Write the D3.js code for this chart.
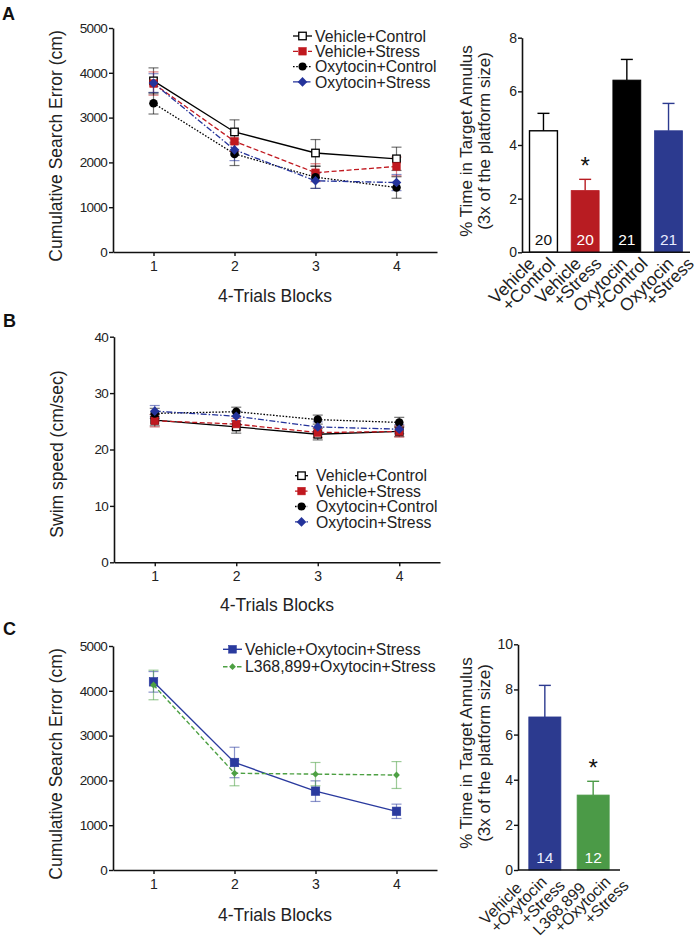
<!DOCTYPE html>
<html>
<head>
<meta charset="utf-8">
<script src="https://cdn.jsdelivr.net/npm/d3@7"></script>
<style>
  html, body { margin: 0; padding: 0; background: #fff; }
  svg { display: block; font-family: "Liberation Sans", Arial, Helvetica, sans-serif; }
</style>
</head>
<body>
<svg id="chart" width="697" height="940"></svg>
<script>
// ---------------- DATA ----------------
const blocks = [1, 2, 3, 4];
const blockTicks = ["1", "2", "3", "4"];

// Panel A – cumulative search error (cm)
const seriesNamesA = ["Vehicle+Control", "Vehicle+Stress", "Oxytocin+Control", "Oxytocin+Stress"];
const vehControlA = [3820, 2680, 2210, 2080];
const vehControlAErr = [290, 270, 300, 260];
const vehStressA = [3760, 2470, 1770, 1910];
const vehStressAErr = [260, 220, 200, 210];
const oxyControlA = [3320, 2190, 1670, 1440];
const oxyControlAErr = [240, 260, 250, 240];
const oxyStressA = [3770, 2280, 1590, 1550];
const oxyStressAErr = [210, 240, 170, 180];
const yTicksA = [0, 1000, 2000, 3000, 4000, 5000];

// Panel A – bar chart (% time in target annulus)
const barCatsA = [["Vehicle", "+Control"], ["Vehicle", "+Stress"], ["Oxytocin", "+Control"], ["Oxytocin", "+Stress"]];
const barValsA = [4.53, 2.30, 6.42, 4.53];
const barErrA = [0.65, 0.42, 0.77, 1.02];
const barNA = ["20", "20", "21", "21"];
const barSigA = ["", "*", "", ""];
const yTicksBarA = [0, 2, 4, 6, 8];

// Panel B – swim speed (cm/sec)
const vehControlB = [25.2, 24.0, 22.7, 23.2];
const vehControlBErr = [1.0, 1.1, 1.0, 0.9];
const vehStressB = [25.1, 24.5, 23.0, 23.2];
const vehStressBErr = [1.1, 1.0, 0.9, 1.0];
const oxyControlB = [26.4, 26.7, 25.3, 24.8];
const oxyControlBErr = [0.9, 0.8, 0.8, 0.9];
const oxyStressB = [26.8, 25.9, 24.0, 23.6];
const oxyStressBErr = [1.0, 0.9, 0.9, 0.8];
const yTicksB = [0, 10, 20, 30, 40];

// Panel C – cumulative search error (cm)
const seriesNamesC = ["Vehicle+Oxytocin+Stress", "L368,899+Oxytocin+Stress"];
const vehOxyStressC = [4200, 2400, 1760, 1310];
const vehOxyStressCErr = [230, 340, 230, 160];
const lOxyStressC = [4130, 2160, 2140, 2120];
const lOxyStressCErr = [330, 280, 260, 300];
const yTicksC = [0, 1000, 2000, 3000, 4000, 5000];

// Panel C – bar chart
const barCatsC = [["Vehicle", "+Oxytocin", "+Stress"], ["L368,899", "+Oxytocin", "+Stress"]];
const barValsC = [6.78, 3.32];
const barErrC = [1.40, 0.61];
const barNC = ["14", "12"];
const barSigC = ["", "*"];
const yTicksBarC = [0, 2, 4, 6, 8, 10];

// ---------------- STYLES ----------------
const RED = "#c0181f", BLUE = "#24339b", BLACK = "#000", GREEN = "#4da043";
const BAR_RED = "#b81c22", BAR_BLUE = "#2c3a8f", BAR_GREEN = "#4b9a47";
const styles4 = [
  { color: BLACK, dash: null, marker: "squareOpen", width: 1.3 },
  { color: RED, dash: "5,2.5", marker: "square", width: 1.3 },
  { color: BLACK, dash: "1.6,1.6", marker: "circle", width: 1.3 },
  { color: BLUE, dash: "6,2,1.5,2", marker: "diamond", width: 1.3 }
];
const stylesC = [
  { color: "#2a3a9e", dash: null, marker: "square", width: 1.4, size: 8.5 },
  { color: GREEN, dash: "4.5,2.5", marker: "diamondSmall", width: 1.4 }
];

const svg = d3.select("#chart");
const FONT = "'Liberation Sans', Arial, Helvetica, sans-serif";

function drawMarker(g, type, x, y, color, size) {
  if (type === "squareOpen") {
    const s = size || 7.5;
    g.append("rect").attr("x", x - s / 2).attr("y", y - s / 2).attr("width", s).attr("height", s)
      .attr("fill", "#fff").attr("stroke", color).attr("stroke-width", 1.3);
  } else if (type === "square") {
    const s = size || 7.5;
    g.append("rect").attr("x", x - s / 2).attr("y", y - s / 2).attr("width", s).attr("height", s)
      .attr("fill", color).attr("stroke", color).attr("stroke-width", 0.6);
  } else if (type === "circle") {
    g.append("circle").attr("cx", x).attr("cy", y).attr("r", (size || 8.6) / 2).attr("fill", color);
  } else if (type === "diamond" || type === "diamondSmall") {
    const r = type === "diamond" ? (size || 4.8) : 3.4;
    g.append("path").attr("d", `M${x},${y - r}L${x + r},${y}L${x},${y + r}L${x - r},${y}Z`).attr("fill", color);
  }
}

function styleAxis(ax) {
  ax.selectAll("path.domain").attr("stroke", "#111").attr("stroke-width", 1.6);
  ax.selectAll(".tick line").attr("stroke", "#111").attr("stroke-width", 1.4);
  ax.selectAll("text").attr("fill", "#222").attr("font-family", FONT);
}

function lineChart(cfg) {
  const g = svg.append("g");
  const x = d3.scaleLinear().domain([0.5, 4.5]).range([cfg.left, cfg.right]);
  const y = d3.scaleLinear().domain([0, cfg.ymax]).range([cfg.bottom, cfg.top]);

  const yAx = g.append("g").attr("transform", `translate(${cfg.left},0)`)
    .call(d3.axisLeft(y).tickValues(cfg.yTicks).tickFormat(d3.format("d")).tickSize(4).tickSizeOuter(0).tickPadding(2));
  yAx.selectAll("text").attr("font-size", 13.5).attr("letter-spacing", "-0.7px");
  styleAxis(yAx);

  const xAx = g.append("g").attr("transform", `translate(0,${cfg.bottom})`)
    .call(d3.axisBottom(x).tickValues(blocks).tickFormat((d, i) => blockTicks[i]).tickSize(4).tickSizeOuter(0).tickPadding(5));
  xAx.selectAll("text").attr("font-size", 14);
  styleAxis(xAx);

  // lines
  const line = d3.line().x((d, i) => x(blocks[i])).y(d => y(d));
  cfg.series.forEach((s, k) => {
    const st = cfg.styles[k];
    g.append("path").attr("d", line(s.values)).attr("fill", "none")
      .attr("stroke", st.color).attr("stroke-width", st.width)
      .attr("stroke-dasharray", st.dash);
  });
  // error bars
  cfg.series.forEach((s, k) => {
    const st = cfg.styles[k];
    s.values.forEach((v, i) => {
      const cx = x(blocks[i]), e = s.err[i];
      const eg = g.append("g").attr("stroke", st.color).attr("stroke-opacity", 0.55).attr("stroke-width", 1.2);
      eg.append("line").attr("x1", cx).attr("x2", cx).attr("y1", y(v - e)).attr("y2", y(v + e));
      [v - e, v + e].forEach(ev => eg.append("line").attr("x1", cx - 5).attr("x2", cx + 5).attr("y1", y(ev)).attr("y2", y(ev)));
    });
  });
  // markers
  cfg.series.forEach((s, k) => {
    const st = cfg.styles[k];
    s.values.forEach((v, i) => drawMarker(g, st.marker, x(blocks[i]), y(v), st.color, st.size));
  });

  // legend
  const lg = g.append("g");
  cfg.legend.names.forEach((name, k) => {
    const st = cfg.styles[k];
    const ly = cfg.legend.y0 + k * cfg.legend.dy;
    lg.append("line").attr("x1", cfg.legend.lx1).attr("x2", cfg.legend.lx2).attr("y1", ly).attr("y2", ly)
      .attr("stroke", st.color).attr("stroke-width", st.width).attr("stroke-dasharray", st.dash);
    drawMarker(lg, st.marker, (cfg.legend.lx1 + cfg.legend.lx2) / 2, ly, st.color, st.size ? st.size * 0.9 : (st.marker === "circle" ? 8 : undefined));
    lg.append("text").attr("x", cfg.legend.tx).attr("y", ly).attr("dy", "0.36em")
      .attr("font-size", 15.8).attr("fill", "#222").text(name);
  });

  // titles
  g.append("text").attr("transform", `translate(${cfg.ytitleX},${cfg.ytitleY}) rotate(-90)`)
    .attr("text-anchor", "middle").attr("font-size", 17.5).attr("fill", "#222").text(cfg.ytitle);
  g.append("text").attr("x", (cfg.left + cfg.right) / 2).attr("y", cfg.xtitleY)
    .attr("text-anchor", "middle").attr("font-size", 17.5).attr("fill", "#222").text("4-Trials Blocks");
}

function barChart(cfg) {
  const g = svg.append("g");
  const idx = cfg.cats.map((c, i) => i);
  const x = d3.scaleBand().domain(idx).range([cfg.left, cfg.right]).paddingInner(cfg.padIn).paddingOuter(cfg.padOut);
  const y = d3.scaleLinear().domain([0, cfg.ymax]).range([cfg.bottom, cfg.top]);

  // bars
  idx.forEach(i => {
    const v = cfg.values[i];
    g.append("rect").attr("x", x(i)).attr("y", y(v)).attr("width", x.bandwidth()).attr("height", y(0) - y(v))
      .attr("fill", cfg.fills[i]).attr("stroke", cfg.strokes[i]).attr("stroke-width", cfg.fills[i] === "#fff" ? 1.4 : 0.8);
    const cx = x(i) + x.bandwidth() / 2;
    const eg = g.append("g").attr("stroke", cfg.strokes[i]).attr("stroke-width", 1.4);
    eg.append("line").attr("x1", cx).attr("x2", cx).attr("y1", y(v)).attr("y2", y(v + cfg.err[i]));
    eg.append("line").attr("x1", cx - 6).attr("x2", cx + 6).attr("y1", y(v + cfg.err[i])).attr("y2", y(v + cfg.err[i]));
    g.append("text").attr("x", cx).attr("y", cfg.bottom - 7).attr("text-anchor", "middle")
      .attr("font-size", 15.5).attr("fill", cfg.nColors[i]).text(cfg.n[i]);
    if (cfg.sig[i]) {
      g.append("text").attr("x", cx).attr("y", y(v + cfg.err[i]) - 5).attr("text-anchor", "middle")
        .attr("font-size", 24).attr("fill", "#111").text(cfg.sig[i]);
    }
    // rotated category labels (baseline end of each line placed relative to the bar)
    const px = cx + cfg.drift * i, py = cfg.bottom;
    cfg.cats[i].forEach((t, j) => {
      const o = cfg.labelOff[j];
      g.append("text").attr("transform", `translate(${px + o[0]},${py + o[1]}) rotate(-45)`)
        .attr("text-anchor", "end").attr("font-size", cfg.labelSize).attr("fill", "#222").text(t);
    });
  });

  const yAx = g.append("g").attr("transform", `translate(${cfg.left},0)`)
    .call(d3.axisLeft(y).tickValues(cfg.yTicks).tickSize(4).tickSizeOuter(0).tickPadding(1));
  yAx.selectAll("text").attr("font-size", 14);
  styleAxis(yAx);
  g.append("line").attr("x1", cfg.left).attr("x2", cfg.right).attr("y1", cfg.bottom).attr("y2", cfg.bottom)
    .attr("stroke", "#111").attr("stroke-width", 1.6);

  // title (two lines)
  g.append("text").attr("transform", `translate(${cfg.t1x},${cfg.ty}) rotate(-90)`)
    .attr("text-anchor", "middle").attr("font-size", 17).attr("fill", "#222").text("% Time in Target Annulus");
  g.append("text").attr("transform", `translate(${cfg.t2x},${cfg.ty}) rotate(-90)`)
    .attr("text-anchor", "middle").attr("font-size", 17).attr("fill", "#222").text("(3x of the platform size)");
}

// ---------------- PANEL A ----------------
lineChart({
  left: 113, right: 437, top: 28, bottom: 252, ymax: 5000, yTicks: yTicksA,
  series: [
    { values: vehControlA, err: vehControlAErr },
    { values: vehStressA, err: vehStressAErr },
    { values: oxyControlA, err: oxyControlAErr },
    { values: oxyStressA, err: oxyStressAErr }
  ],
  styles: styles4,
  legend: { names: seriesNamesA, y0: 36, dy: 15.3, lx1: 293, lx2: 312, tx: 315 },
  ytitle: "Cumulative Search Error (cm)", ytitleX: 61.5, ytitleY: 146, xtitleY: 302
});

barChart({
  left: 522, right: 690, top: 37.7, bottom: 252.3, ymax: 8, yTicks: yTicksBarA,
  padIn: 0.33, padOut: 0.18,
  cats: barCatsA, values: barValsA, err: barErrA, n: barNA, sig: barSigA,
  fills: ["#fff", BAR_RED, "#000", BAR_BLUE], strokes: ["#000", BAR_RED, "#000", BAR_BLUE],
  nColors: ["#111", "#fff", "#fff", "#e8ecff"],
  drift: 4.5, labelOff: [[-7.5, 12.5], [13, 12.5]], labelSize: 17.5,
  t1x: 471.5, t2x: 490, ty: 141
});

// ---------------- PANEL B ----------------
lineChart({
  left: 114, right: 440, top: 336.7, bottom: 562.3, ymax: 40, yTicks: yTicksB,
  series: [
    { values: vehControlB, err: vehControlBErr },
    { values: vehStressB, err: vehStressBErr },
    { values: oxyControlB, err: oxyControlBErr },
    { values: oxyStressB, err: oxyStressBErr }
  ],
  styles: styles4,
  legend: { names: seriesNamesA, y0: 475.7, dy: 15.4, lx1: 295, lx2: 308, tx: 316 },
  ytitle: "Swim speed (cm/sec)", ytitleX: 63, ytitleY: 454, xtitleY: 611
});

// ---------------- PANEL C ----------------
lineChart({
  left: 113, right: 437, top: 646, bottom: 870, ymax: 5000, yTicks: yTicksC,
  series: [
    { values: vehOxyStressC, err: vehOxyStressCErr },
    { values: lOxyStressC, err: lOxyStressCErr }
  ],
  styles: stylesC,
  legend: { names: seriesNamesC, y0: 649.3, dy: 17.4, lx1: 223, lx2: 242, tx: 245 },
  ytitle: "Cumulative Search Error (cm)", ytitleX: 61.5, ytitleY: 764, xtitleY: 921
});

barChart({
  left: 518, right: 620, top: 644.3, bottom: 870, ymax: 10, yTicks: yTicksBarC,
  padIn: 0.337, padOut: 0.224,
  cats: barCatsC, values: barValsC, err: barErrC, n: barNC, sig: barSigC,
  fills: [BAR_BLUE, BAR_GREEN], strokes: [BAR_BLUE, BAR_GREEN],
  nColors: ["#e8ecff", "#fff"],
  drift: 15.5, labelOff: [[-22, 19], [3, 13], [21, 16.5]], labelSize: 16,
  t1x: 471.5, t2x: 490, ty: 753
});

// panel letters
[["A", 2, 20], ["B", 3, 327], ["C", 3, 635]].forEach(([t, x, y]) => {
  svg.append("text").attr("x", x).attr("y", y).attr("font-size", 18).attr("font-weight", "bold")
    .attr("fill", "#111").text(t);
});
</script>
</body>
</html>
